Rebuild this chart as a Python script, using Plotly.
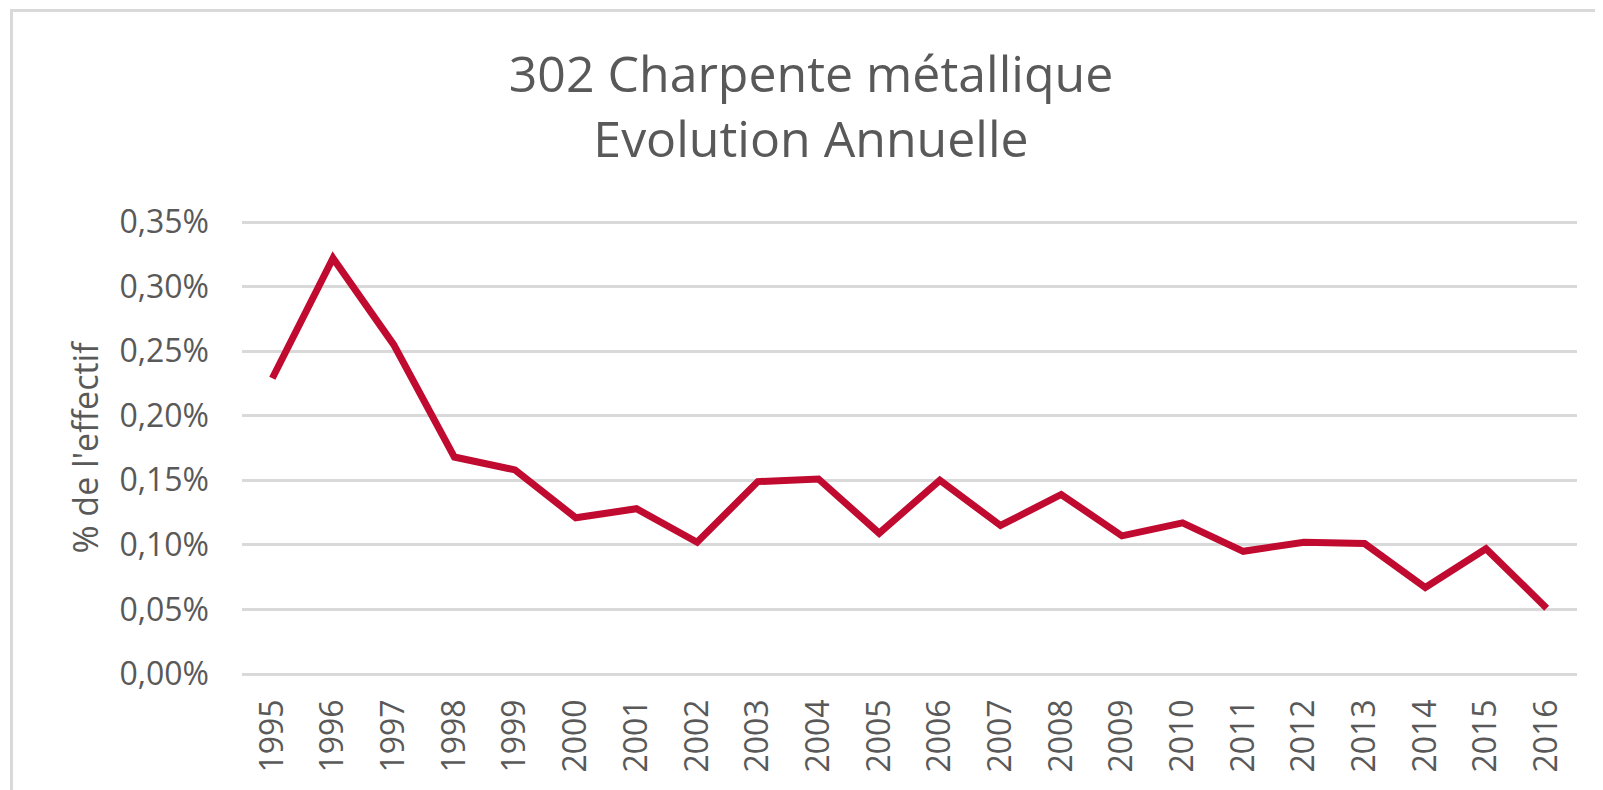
import plotly.graph_objects as go

years = [str(y) for y in range(1995, 2017)]
values = [0.229, 0.322, 0.255, 0.168, 0.158, 0.121, 0.128, 0.102, 0.149, 0.151,
          0.109, 0.150, 0.115, 0.139, 0.107, 0.117, 0.095, 0.102, 0.101, 0.067,
          0.097, 0.051]
y_ticks = [0.0, 0.0005, 0.001, 0.0015, 0.002, 0.0025, 0.003, 0.0035]
title_lines = ["302 Charpente métallique", "Evolution Annuelle"]
y_title = "% de l'effectif"

W, H = 1603, 790
OFF = 8  # default page margin of the HTML body
L, T = 242 - OFF, 220 - OFF
R, B = W - (1577 - OFF), H - (676 - OFF)
pw, ph = W - L - R, H - T - B

TXT = "#595959"
GRID = "#d9d9d9"
FONT = "Open Sans"

# small padding so that the 0 % and 0,35 % gridlines are drawn
pad = 0.0035 * 2 / 452

fig = go.Figure()
fig.add_trace(go.Scatter(
    x=years, y=[v / 100 for v in values], mode="lines",
    line=dict(color="#c00a30", width=7), hoverinfo="x+y",
))

def px_x(p):
    return (p - OFF - L) / pw

def px_y(p):
    return (H - B - (p - OFF)) / ph

fig.update_layout(
    width=W, height=H,
    margin=dict(l=L, r=R, t=T, b=B, autoexpand=False),
    paper_bgcolor="white", plot_bgcolor="white",
    separators=", ",
    showlegend=False,
    font=dict(family=FONT, color=TXT),
    title=dict(
        text="<br>".join(title_lines),
        x=(811 - OFF) / W, xanchor="center", xref="container",
        y=1 - 84 / H, yanchor="top", yref="container",
        font=dict(family=FONT, size=50, color=TXT),
    ),
    xaxis=dict(
        type="category", range=[-0.5, len(years) - 0.5],
        tickangle=-90, tickfont=dict(size=32, color=TXT),
        showgrid=False, zeroline=False, showline=False, ticks="",
        ticklabelstandoff=16, automargin=False,
    ),
    yaxis=dict(
        range=[-pad, 0.0035 + pad], tickvals=y_ticks, tickformat=".2%",
        tickfont=dict(size=32, color=TXT),
        showgrid=True, gridcolor=GRID, gridwidth=3,
        zeroline=False, showline=False, ticks="",
        ticklabelstandoff=32, automargin=False,
        title=dict(text=y_title, font=dict(size=34, color=TXT), standoff=10),
    ),
    shapes=[dict(
        type="rect", xref="paper", yref="paper",
        x0=px_x(11.5), x1=px_x(W + 30), y0=px_y(10.5), y1=px_y(H + 30),
        line=dict(color=GRID, width=3), fillcolor="rgba(0,0,0,0)", layer="below",
    )],
)

fig.write_html("out.html")
